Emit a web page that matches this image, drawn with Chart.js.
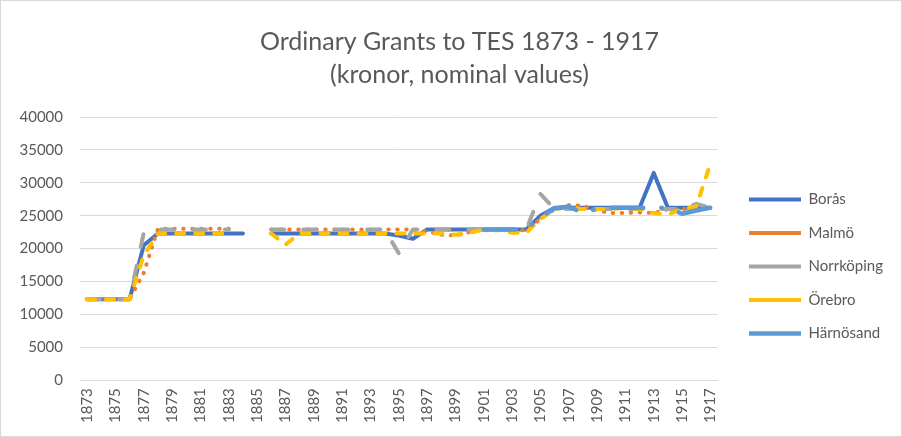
<!DOCTYPE html>
<html>
<head>
<meta charset="utf-8">
<script src="https://cdn.jsdelivr.net/npm/chart.js@4.4.1/dist/chart.umd.min.js"></script>
<style>
	html, body { margin: 0; padding: 0; background: #fff; }
	#wrap { width: 902px; height: 437px; box-sizing: border-box; border: 1px solid #d9d9d9; position: relative; }
</style>
</head>
<body>
<div id="wrap"><canvas id="grants-chart"></canvas></div>
<script>
// Years on the category axis
const years = [];
for (let y = 1873; y <= 1917; y++) years.push(String(y));

// Values (kronor), null = no data
const boras = [12300, 12300, 12300, 12300, 20500,
	22300, 22300, 22300, 22300, 22300, 22300, 22300, null,
	22300, 22300, 22300, 22300, 22300, 22300, 22300, 22300, 22300,
	22000, 21500,
	22900, 22900, 22900, 22900, 22900, 22900, 22900, 22900,
	25000,
	26200, 26200, 26200, 26200, 26200, 26200, 26200,
	31500,
	26200, 26200, 26200, 26200];
const malmo = [12300, 12300, 12300, 12300, 16300,
	23000, 23000, 23000, 23000, 23000, 23000, null, null,
	22900, 22900, 22900, 22900, 22900, 22900, 22900, 22900, 22900, 22900, 22900,
	22600, 22100, 22000, 22500,
	22800, 22800, 22800, 22800,
	24500, 26000, 26600, 26500, 25800, 25400, 25400, 25500, 25400,
	26000, 26000, 26000, 26000];
const norrkoping = [12300, 12300, 12300, 12300, 22400,
	22900, 22900, 22900, 22900, 22900, 22900, null, null,
	22900, 22900, 22900, 22900, 22900, 22900, 22900, 22900, 22900,
	19300,
	22900, 22900, 22900, 22900, 22900, 22900, 22900, 22900, 22900,
	28300,
	26000, 26000, 26000, 26000, 26000, 26000, 26000, 26000, 26000,
	26000, 26800, 26200];
const orebro = [12300, 12300, 12300, 12300, 19000,
	22300, 22300, 22300, 22300, 22300, 22300, null, null,
	22300, 20600,
	22300, 22300, 22300, 22300, 22300, 22300, 22300, 22300, 22300, 22300, 22300,
	22100, 22400, 22900, 22800, 22400, 22400,
	24500, 26000, 26300, 26000, 26000, 26000, 26200, 26000,
	25400, 25200, 26000, 26400, 32900];
const harnosand = [null, null, null, null, null, null, null, null, null, null,
	null, null, null, null, null, null, null, null, null, null,
	null, null, null, null, null, null, null, null,
	22900, 22900, 22900, 22900,
	24800, 26100, 26400, 25400, 26100,
	26200, 26200, 26200, 26200, 26200,
	25300, 25800, 26200];

const yTicks = [0, 5000, 10000, 15000, 20000, 25000, 30000, 35000, 40000];

const textColor = '#595959';
const gridColor = '#d9d9d9';
const font = 'Lato, "Open Sans", sans-serif';

function series(label, data, color, width, dash, order) {
	return {
		label: label,
		data: data,
		borderColor: color,
		backgroundColor: color,
		borderWidth: width,
		borderDash: dash,
		borderCapStyle: 'round',
		borderJoinStyle: 'round',
		pointRadius: 0,
		pointHoverRadius: 0,
		tension: 0,
		spanGaps: false,
		order: order
	};
}

// nudge legend and title to where Excel put them
const blockShift = {
	id: 'blockShift',
	afterLayout(chart) {
		const lg = chart.legend;
		if (lg) { lg.top += 18; lg.bottom += 18; }
		const tb = chart.titleBlock;
		if (tb) { tb.left += 12; tb.right += 12; }
	}
};

document.addEventListener('DOMContentLoaded', function () {
	const ctx = document.getElementById('grants-chart');
	new Chart(ctx, {
		type: 'line',
		data: {
			labels: years,
			datasets: [
				series('Borås', boras, '#4472c4', 4, [], 5),
				series('Malmö', malmo, '#ed7d31', 4, [0.5, 8.5], 4),
				series('Norrköping', norrkoping, '#a5a5a5', 4, [13, 19], 3),
				series('Örebro', orebro, '#ffc000', 4, [8, 11], 2),
				series('Härnösand', harnosand, '#5b9bd5', 4.5, [32, 18, 0.5, 18], 1)
			]
		},
		plugins: [blockShift],
		options: {
			responsive: true,
			maintainAspectRatio: false,
			animation: false,
			layout: { padding: { left: 1, right: 8, top: 0, bottom: 5 } },
			plugins: {
				title: {
					display: true,
					text: ['Ordinary Grants to TES 1873 - 1917', '(kronor, nominal values)'],
					color: textColor,
					font: { family: font, size: 25, weight: 'normal', lineHeight: 1.32 },
					padding: { top: 24, bottom: 26 }
				},
				legend: {
					position: 'right',
					fullSize: false,
					maxWidth: 220,
					labels: {
						usePointStyle: true,
						pointStyle: 'line',
						pointStyleWidth: 52,
						padding: 18.5,
						color: textColor,
						font: { family: font, size: 15 },
						sort: (a, b) => a.datasetIndex - b.datasetIndex
					}
				},
				tooltip: { enabled: false }
			},
			scales: {
				x: {
					offset: true,
					grid: { display: false, drawTicks: false },
					border: { display: true, color: gridColor },
					ticks: {
						autoSkip: false,
						minRotation: 90,
						maxRotation: 90,
						padding: 8,
						color: textColor,
						font: { family: font, size: 15 },
						callback: function (v, i) { return i % 2 === 0 ? years[i] : ''; }
					}
				},
				y: {
					min: 0,
					max: 40000,
					afterBuildTicks: function (axis) { axis.ticks = yTicks.map(v => ({ value: v })); },
					afterFit: function (axis) { axis.width = 78; },
					grid: { color: gridColor, drawTicks: false },
					border: { display: false },
					ticks: {
						padding: 17,
						color: textColor,
						font: { family: font, size: 15 },
						callback: function (v) { return String(v); }
					}
				},
				gap: {
					position: 'right',
					display: true,
					grid: { display: false, drawTicks: false },
					border: { display: false },
					ticks: { display: false },
					afterFit: function (axis) { axis.width = 13; }
				}
			}
		}
	});
});
</script>
</body>
</html>
